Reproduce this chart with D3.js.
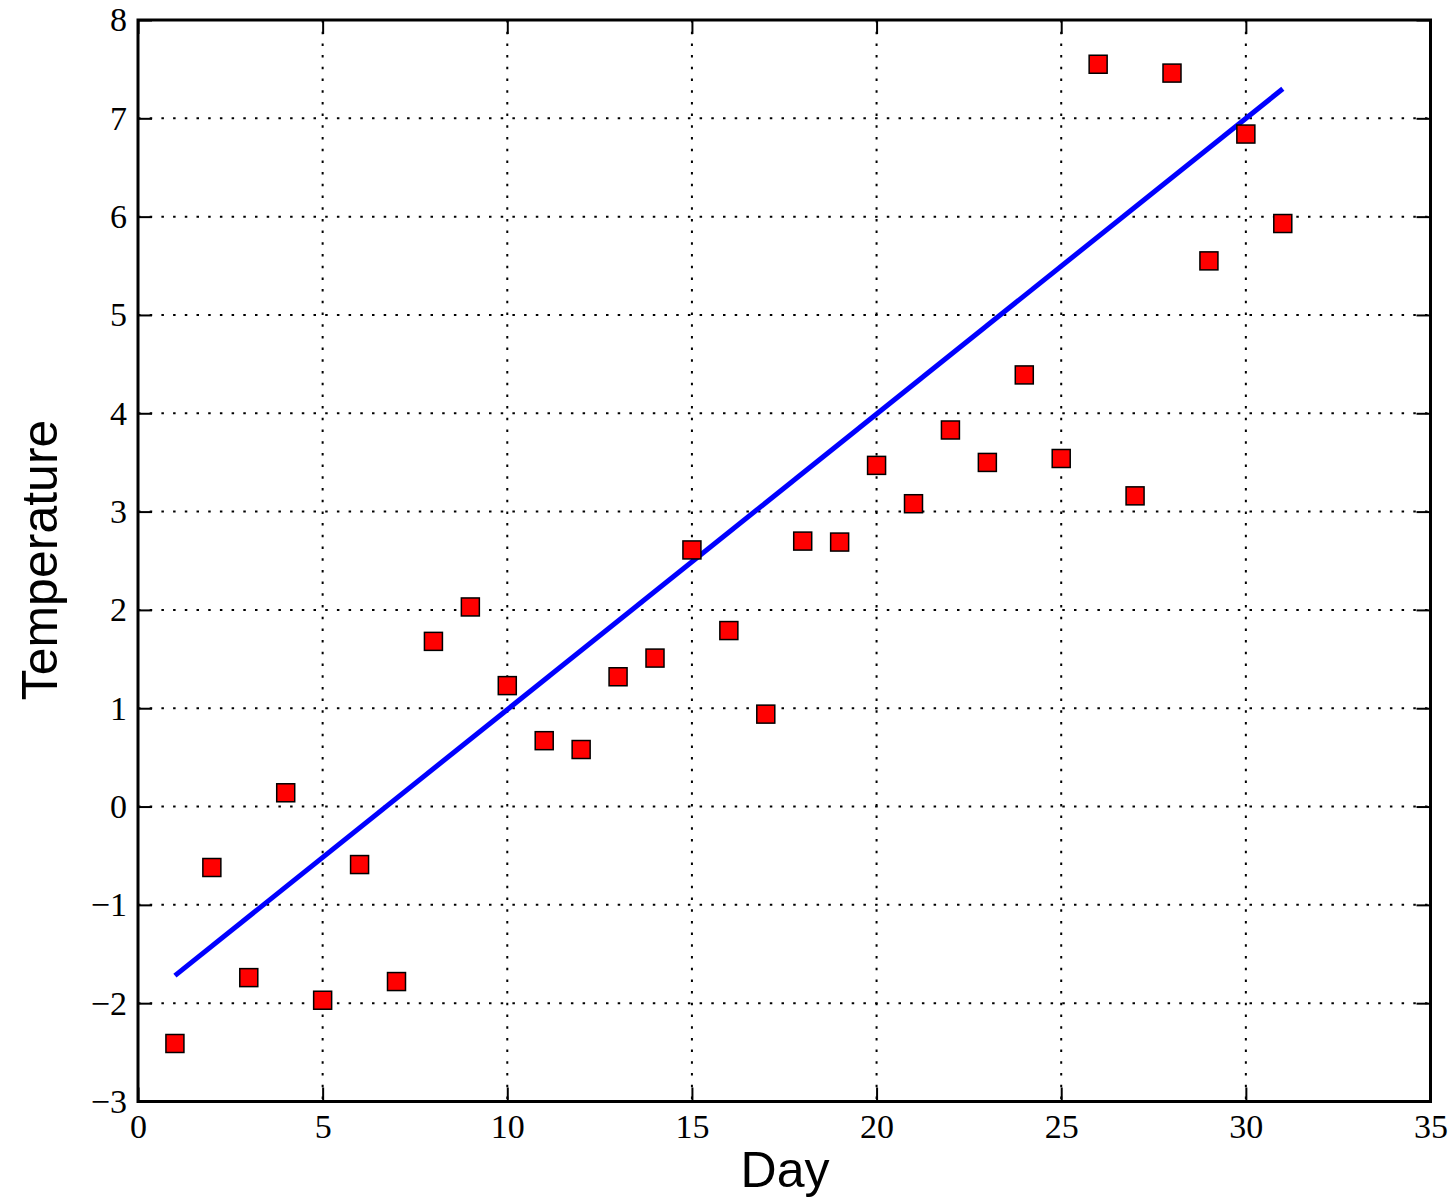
<!DOCTYPE html>
<html>
<head>
<meta charset="utf-8">
<script src="https://cdn.jsdelivr.net/npm/d3@7"></script>
<style>
  html, body { margin: 0; padding: 0; background: #fff; }
  svg { display: block; }
</style>
</head>
<body>
<svg id="chart" width="1454" height="1201"></svg>
<script>
const days = [1,2,3,4,5,6,7,8,9,10,11,12,13,14,15,16,17,18,19,20,21,22,23,24,25,26,27,28,29,30,31];
const temps = [-2.41,-0.62,-1.74,0.14,-1.97,-0.59,-1.78,1.68,2.03,1.23,0.67,0.58,1.32,1.51,2.61,1.79,0.94,2.70,2.69,3.47,3.08,3.83,3.50,4.39,3.54,7.55,3.16,7.46,5.55,6.84,5.93];
const fitDays = [1, 31];
const fitTemps = [-1.72, 7.30];
const xTicks = [0,5,10,15,20,25,30,35];
const yTicks = [-3,-2,-1,0,1,2,3,4,5,6,7,8];

const svg = d3.select("#chart");
const L = 138, R = 1430.5, T = 20, B = 1101.5;
const x = d3.scaleLinear().domain([0,35]).range([L,R]);
const y = d3.scaleLinear().domain([-3,8]).range([B,T]);
const fmt = v => v < 0 ? "\u2212" + Math.abs(v) : String(v);

// grid
const grid = svg.append("g");
grid.selectAll("line.gx").data(xTicks.slice(1,-1)).join("line")
  .attr("x1", d=>x(d)).attr("x2", d=>x(d)).attr("y1", T).attr("y2", B)
  .attr("stroke","#000").attr("stroke-width",2).attr("stroke-dasharray","2.5,9.2");
grid.selectAll("line.gy").data(yTicks.slice(1,-1)).join("line")
  .attr("y1", d=>y(d)).attr("y2", d=>y(d)).attr("x1", L).attr("x2", R)
  .attr("stroke","#000").attr("stroke-width",2).attr("stroke-dasharray","2.5,9.2");

// axes with inward ticks on all sides
const tickLen = 14;
const axB = svg.append("g").attr("transform",`translate(0,${B})`)
  .call(d3.axisBottom(x).tickValues(xTicks).tickSizeInner(-tickLen).tickSizeOuter(0).tickPadding(12).tickFormat(fmt));
const axT = svg.append("g").attr("transform",`translate(0,${T})`)
  .call(d3.axisTop(x).tickValues(xTicks).tickSizeInner(-tickLen).tickSizeOuter(0).tickFormat(""));
const axL = svg.append("g").attr("transform",`translate(${L},0)`)
  .call(d3.axisLeft(y).tickValues(yTicks).tickSizeInner(-tickLen).tickSizeOuter(0).tickPadding(11).tickFormat(fmt));
const axR = svg.append("g").attr("transform",`translate(${R},0)`)
  .call(d3.axisRight(y).tickValues(yTicks).tickSizeInner(-tickLen).tickSizeOuter(0).tickFormat(""));
[axB,axT,axL,axR].forEach(a => {
  a.select(".domain").remove();
  a.selectAll(".tick line").attr("stroke","#000").attr("stroke-width",2);
  a.selectAll("text").attr("font-family","'Liberation Serif', 'DejaVu Serif', serif").attr("font-size",34).attr("fill","#000");
});

// data line
const line = d3.line().x((d,i)=>x(fitDays[i])).y((d,i)=>y(fitTemps[i]));
svg.append("path").datum(fitDays).attr("d", line)
  .attr("fill","none").attr("stroke","#0000ff").attr("stroke-width",5);

// markers
const s = 18;
svg.append("g").selectAll("rect").data(days).join("rect")
  .attr("x",(d,i)=>x(d)-s/2).attr("y",(d,i)=>y(temps[i])-s/2)
  .attr("width",s).attr("height",s)
  .attr("fill","#ff0000").attr("stroke","#000").attr("stroke-width",1.5);

// frame
svg.append("rect").attr("x",L).attr("y",T).attr("width",R-L).attr("height",B-T)
  .attr("fill","none").attr("stroke","#000").attr("stroke-width",3);

// labels
svg.append("text").attr("x",785).attr("y",1187).attr("text-anchor","middle")
  .attr("font-family","'Liberation Sans', Arial, sans-serif").attr("font-size",50).text("Day");
svg.append("text").attr("transform","translate(57,560) rotate(-90)").attr("text-anchor","middle")
  .attr("font-family","'Liberation Sans', Arial, sans-serif").attr("font-size",50).text("Temperature");
</script>
</body>
</html>
